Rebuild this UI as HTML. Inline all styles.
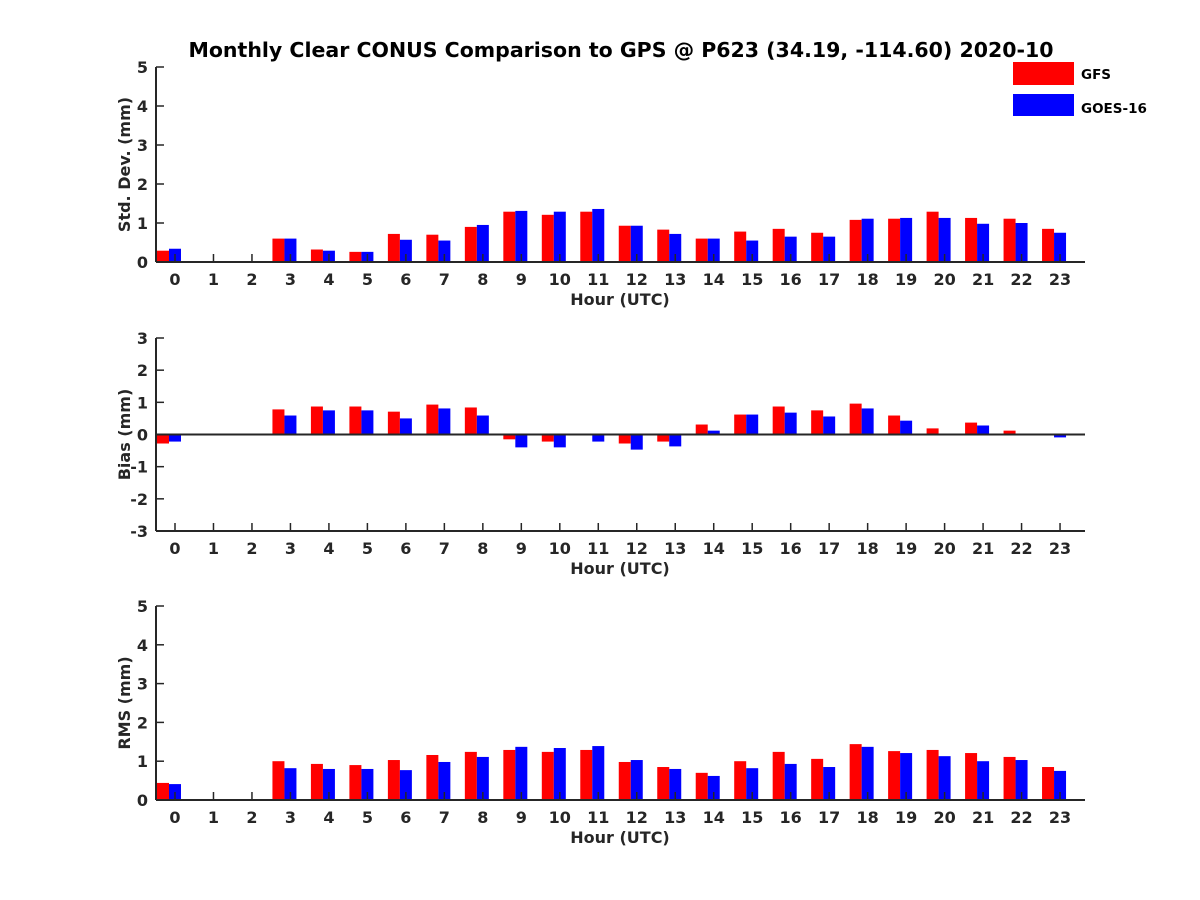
<!DOCTYPE html>
<html><head><meta charset="utf-8"><style>
body{margin:0;background:#fff}
svg{display:block;font-family:"DejaVu Sans","Liberation Sans",sans-serif;font-weight:bold}
</style></head><body>
<svg id="chart" width="1200" height="900" viewBox="0 0 1200 900">
<text x="621" y="57" text-anchor="middle" font-size="20.5" fill="#000">Monthly Clear CONUS Comparison to GPS @ P623 (34.19, -114.60) 2020-10</text>
<g>
<rect x="1013" y="62" width="61" height="23" fill="#ff0000"/>
<text x="1081" y="79" font-size="13.5">GFS</text>
<rect x="1013" y="94" width="61" height="22" fill="#0000ff"/>
<text x="1081" y="113" font-size="13.5">GOES-16</text>
</g>
</svg>
<script>
const hours=[0,1,2,3,4,5,6,7,8,9,10,11,12,13,14,15,16,17,18,19,20,21,22,23];
const stdGFS=[0.29,null,null,0.6,0.32,0.26,0.72,0.70,0.90,1.29,1.21,1.29,0.93,0.83,0.6,0.78,0.85,0.75,1.08,1.11,1.29,1.13,1.11,0.85];
const stdGOES=[0.34,null,null,0.6,0.29,0.26,0.57,0.55,0.95,1.31,1.29,1.36,0.93,0.72,0.6,0.55,0.65,0.65,1.11,1.13,1.13,0.98,1.0,0.75];
const biasGFS=[-0.28,null,null,0.78,0.87,0.87,0.71,0.93,0.84,-0.15,-0.22,-0.03,-0.28,-0.22,0.31,0.62,0.87,0.75,0.96,0.59,0.19,0.37,0.12,0.03];
const biasGOES=[-0.22,null,null,0.59,0.75,0.75,0.5,0.81,0.59,-0.4,-0.4,-0.22,-0.47,-0.37,0.12,0.62,0.68,0.56,0.81,0.43,0.03,0.28,0.03,-0.09];
const rmsGFS=[0.44,null,null,1.0,0.93,0.9,1.03,1.16,1.24,1.29,1.24,1.29,0.98,0.85,0.7,1.0,1.24,1.06,1.44,1.26,1.29,1.21,1.11,0.85];
const rmsGOES=[0.41,null,null,0.82,0.8,0.8,0.77,0.98,1.11,1.37,1.34,1.39,1.03,0.8,0.62,0.82,0.93,0.85,1.37,1.21,1.13,1.0,1.03,0.75];
const stdTicks=[0,1,2,3,4,5];
const biasTicks=[-3,-2,-1,0,1,2,3];
const rmsTicks=[0,1,2,3,4,5];

const NS='http://www.w3.org/2000/svg';
const svg=document.getElementById('chart');
const X0=156,X1=1085;
function xScale(h){return 175+h*38.48;}
function mk(tag,attrs,parent){const e=document.createElementNS(NS,tag);for(const k in attrs)e.setAttribute(k,attrs[k]);(parent||svg).appendChild(e);return e;}

function panel(name,yTop,yBot,vmin,vmax,ticks,red,blue,ylabel){
  const g=mk('g',{});
  
  
  const y=v=>yBot-(v-vmin)/(vmax-vmin)*(yBot-yTop);
  const base=y(Math.max(vmin,0));
  hours.forEach((h,i)=>{
    const cx=xScale(h);
    [[red[i],'#ff0000',-18,'gfs'],[blue[i],'#0000ff',-6,'goes']].forEach(([v,c,off,s])=>{
      if(v===null)return;
      const y1=Math.min(y(v),base),hh=Math.abs(y(v)-base);
      const r=mk('rect',{x:cx+off,y:y1,width:12,height:hh,fill:c},g);
      
      
    });
  });
  const ax=mk('line',{x1:X0,y1:yTop,x2:X0,y2:yBot,stroke:'#262626','stroke-width':2},g);
  
  
  const bx=mk('line',{x1:X0,y1:yBot,x2:X1,y2:yBot,stroke:'#262626','stroke-width':2},g);
  
  
  if(vmin<0){
    const z=mk('line',{x1:X0,y1:y(0),x2:X1,y2:y(0),stroke:'#262626','stroke-width':2},g);
    
    
  }
  ticks.forEach(t=>{
    mk('line',{x1:X0,y1:y(t),x2:X0+8,y2:y(t),stroke:'#262626','stroke-width':1.5},g);
    const tx=mk('text',{x:X0-8,y:y(t)+6,'text-anchor':'end','font-size':16,fill:'#262626'},g);
    tx.textContent=t;
    
    
  });
  hours.forEach(h=>{
    mk('line',{x1:xScale(h),y1:yBot,x2:xScale(h),y2:yBot-8,stroke:'#262626','stroke-width':1.5},g);
    const tx=mk('text',{x:xScale(h),y:yBot+23,'text-anchor':'middle','font-size':16,fill:'#262626'},g);
    tx.textContent=h;
    
    
  });
  const xl=mk('text',{x:620,y:yBot+43,'text-anchor':'middle','font-size':16,fill:'#262626'},g);
  xl.textContent='Hour (UTC)';
  
  
  const cy=(yTop+yBot)/2;
  const yl=mk('text',{x:0,y:0,'text-anchor':'middle','font-size':16,fill:'#262626',transform:`translate(130,${cy}) rotate(-90)`},g);
  yl.textContent=ylabel;
  
  
}
panel('std',67,262,0,5,stdTicks,stdGFS,stdGOES,'Std. Dev. (mm)');
panel('bias',338,531,-3,3,biasTicks,biasGFS,biasGOES,'Bias (mm)');
panel('rms',606,800,0,5,rmsTicks,rmsGFS,rmsGOES,'RMS (mm)');
</script>
</body></html>
